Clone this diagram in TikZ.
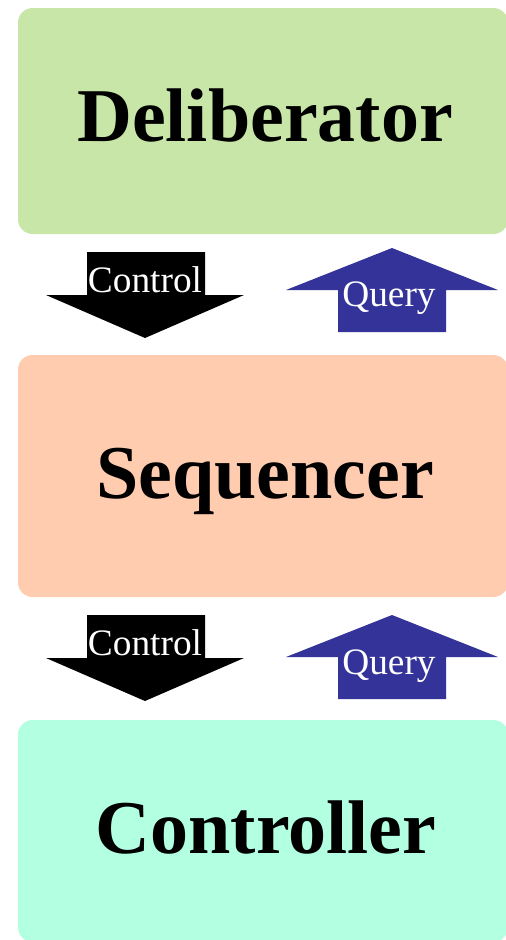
\documentclass[tikz,border=0pt]{standalone}
\usepackage{fontspec}
\setmainfont{Liberation Serif}
\definecolor{delibgreen}{RGB}{200,230,167}
\definecolor{seqpeach}{RGB}{255,204,176}
\definecolor{ctrlmint}{RGB}{179,255,225}
\definecolor{queryblue}{RGB}{51,51,153}
\tikzset{
  layerbox/.style={fill=#1, draw=none, rounded corners=11pt, inner sep=0pt,
    minimum width=367.5pt},
  layertitle/.style={anchor=base, inner sep=0pt, font=\bfseries\fontsize{57}{66}\selectfont},
  flowlabel/.style={anchor=base, inner sep=0pt, text=white, font=\fontsize{28}{32}\selectfont},
  controlarrow/.style={fill=black, draw=none},
  queryarrow/.style={fill=queryblue, draw=none}
}
\begin{document}
\begin{tikzpicture}[x=0.75pt,y=-0.75pt]
\useasboundingbox (0,0) rectangle (506,940);
\begin{scope}
\clip (0,0) rectangle (506,940);
% the three layers
\node[layerbox=delibgreen, minimum height=169.5pt] (delib) at (263,121) {};
\node[layerbox=seqpeach, minimum height=181.5pt] (seq) at (263,476) {};
\node[layerbox=ctrlmint, minimum height=166.5pt] (ctrl) at (263,831) {};
\node[layertitle] (delibtxt) at (265,141) {Deliberator};
\node[layertitle] (seqtxt) at (265,498) {Sequencer};
\node[layertitle] (ctrltxt) at (266,853) {Controller};

% block arrows between Deliberator and Sequencer
\fill[controlarrow] (87,252) -- (205,252) -- (205,295) -- (244,295) -- (145,338)
  -- (46,295) -- (87,295) -- cycle;
\node[flowlabel] (ctl1) at (145,292) {Control};
\fill[queryarrow] (392,248) -- (498,290) -- (446,290) -- (446,332) -- (338,332)
  -- (338,290) -- (286,290) -- cycle;
\node[flowlabel] (qry1) at (389,306) {Query};

% block arrows between Sequencer and Controller
\fill[controlarrow] (87,615) -- (205,615) -- (205,658) -- (244,658) -- (145,701)
  -- (46,658) -- (87,658) -- cycle;
\node[flowlabel] (ctl2) at (145,655) {Control};
\fill[queryarrow] (392,615) -- (498,657) -- (446,657) -- (446,699) -- (338,699)
  -- (338,657) -- (286,657) -- cycle;
\node[flowlabel] (qry2) at (389,674) {Query};
\end{scope}
\end{tikzpicture}
\end{document}
